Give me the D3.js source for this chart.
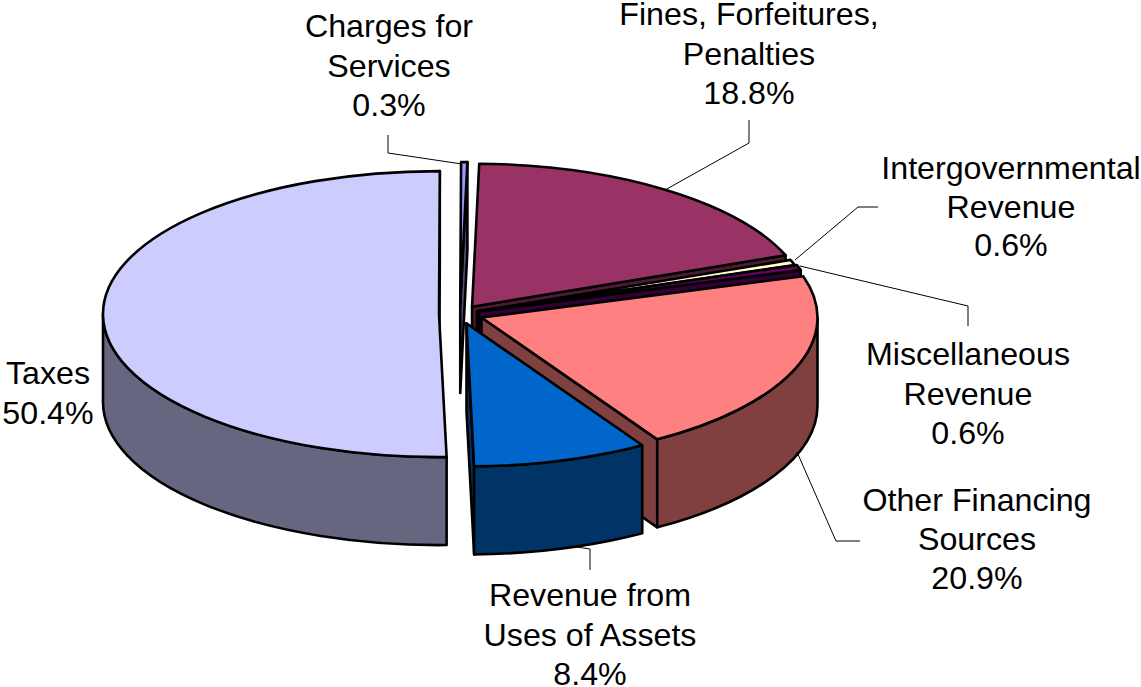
<!DOCTYPE html>
<html><head><meta charset="utf-8">
<script src="https://cdn.jsdelivr.net/npm/d3@7/dist/d3.min.js"></script>
<style>html,body{margin:0;padding:0;background:#fff}svg{display:block}text{font-family:"Liberation Sans",Arial,sans-serif;font-size:32.2px;fill:#000}</style>
</head><body><svg id="c" width="1141" height="687"></svg>
<script>
const categories = ["Taxes","Charges for Services","Fines, Forfeitures, Penalties","Intergovernmental Revenue","Miscellaneous Revenue","Other Financing Sources","Revenue from Uses of Assets"];
const values = [50.4,0.3,18.8,0.6,0.6,20.9,8.4];
const topColors = ["#CCCCFF","#9999FF","#993366","#FFFFCC","#660066","#FF8080","#0066CC"];
const sideColors = ["#666680","#4D4D80","#4D1A33","#808066","#330033","#804040","#003366"];
const explodes = [21,21,21,18,20,23,23];

const svg = d3.select("#c");
const C = {x:460,y:314}, rx=336, ry=143, depth=88, squash=ry/rx;
const rad = d => d*Math.PI/180;
const start = rad(178.7);
const arcs = d3.pie().sort(null).startAngle(start).endAngle(start+2*Math.PI)(values);
const sx = d3.scaleLinear([-1,1],[-rx,rx]);
const sy = d3.scaleLinear([-1,1],[-ry,ry]);

arcs.forEach((a,i)=>{
  const wrap = a.startAngle >= 2*Math.PI ? 2*Math.PI : 0;
  const a0=a.startAngle-wrap,a1=a.endAngle-wrap,mid=(a0+a1)/2,e=explodes[i];
  const ax=C.x+Math.sin(mid)*e, ay=C.y-Math.cos(mid)*e*squash;
  const P=(t,d=0)=>[ax+sx(Math.sin(t)),ay-sy(Math.cos(t))+d];
  const g=svg.append("g").attr("stroke","#000").attr("stroke-width",2.6).attr("stroke-linejoin","round");
  const face=t=>{const p=P(t),q=P(t,depth);
    g.append("path").attr("fill",sideColors[i]).attr("d",`M${ax},${ay}L${p}L${q}L${ax},${ay+depth}Z`);};
  if(Math.sin(a0)<0) face(a0);
  if(Math.sin(a1)>0) face(a1);
  const w0=Math.max(a0,Math.PI/2), w1=Math.min(a1,1.5*Math.PI);
  if(w1>w0){
    g.append("path").attr("fill",sideColors[i])
     .attr("d",`M${P(w0)}A${rx},${ry} 0 0 1 ${P(w1)}L${P(w1,depth)}A${rx},${ry} 0 0 0 ${P(w0,depth)}Z`);
  }
  const large=(a1-a0)>Math.PI?1:0;
  g.append("path").attr("fill",topColors[i])
   .attr("d",`M${ax},${ay}L${P(a0)}A${rx},${ry} 0 ${large} 1 ${P(a1)}Z`);
});

const leaders=[
 [[388,135],[388,153],[462,164]],
 [[749,120],[749,143],[665,190]],
 [[878,207],[858,207],[795,260]],
 [[968,326],[968,306],[800,266]],
 [[860,541],[836,541],[797,452]],
 [[590,570],[590,549],[570,546]]
];
const line=d3.line();
svg.append("g").selectAll("path").data(leaders).join("path")
 .attr("d",line).attr("fill","none").attr("stroke","#000").attr("stroke-width",1);

const labels=[
 {x:48,y:384,dy:39.5,t:["Taxes","50.4%"]},
 {x:389,y:37,dy:39.5,t:["Charges for","Services","0.3%"]},
 {x:749,y:25,dy:39.5,t:["Fines, Forfeitures,","Penalties","18.8%"]},
 {x:1011,y:179,dy:38.5,t:["Intergovernmental","Revenue","0.6%"]},
 {x:968,y:365,dy:39.5,t:["Miscellaneous","Revenue","0.6%"]},
 {x:977,y:511,dy:39,t:["Other Financing","Sources","20.9%"]},
 {x:590,y:606,dy:39.5,t:["Revenue from","Uses of Assets","8.4%"]}
];
labels.forEach(l=>{
  const t=svg.append("text").attr("text-anchor","middle");
  l.t.forEach((s,k)=>t.append("tspan").attr("x",l.x).attr("y",l.y+k*l.dy).text(s));
});
</script></body></html>
